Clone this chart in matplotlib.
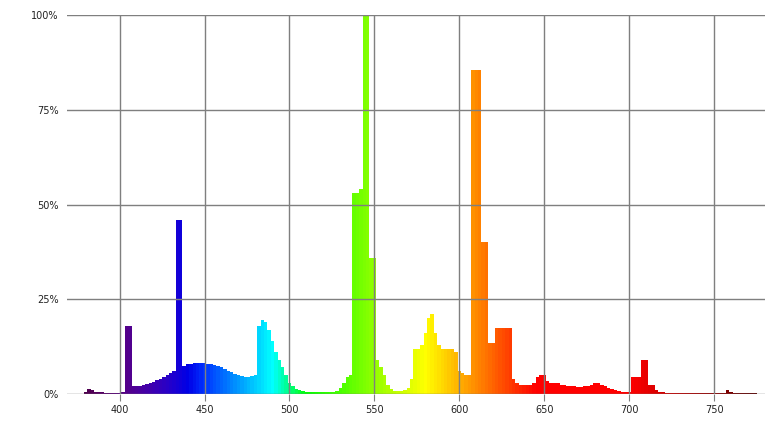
import numpy as np
import matplotlib.pyplot as plt

# relative spectral power, 2 nm bins (bin centre in nm)
wavelengths = list(range(376, 778, 2))
power = [
    0, 0, 0.5, 1.2, 1.0, 0.5, 0.4, 0.4, 0.3, 0.3,          # 376-394
    0.3, 0.3, 0.3, 0.5, 18, 18, 2.0, 2.0, 2.2, 2.5,         # 396-414
    2.7, 3.0, 3.2, 3.6, 4.0, 4.5, 5.0, 5.5, 6.0, 46,        # 416-434
    46, 7.5, 7.8, 8.0, 8.2, 8.3, 8.3, 8.2, 8.0, 7.8,        # 436-454
    7.6, 7.3, 7.0, 6.6, 6.2, 5.8, 5.4, 5.1, 4.8, 4.6,       # 456-474
    4.6, 4.8, 5.0, 18, 19.5, 19, 17, 14, 11, 9,             # 476-494
    7, 5, 3, 2, 1.3, 1.0, 0.8, 0.6, 0.5, 0.5,               # 496-514
    0.5, 0.5, 0.5, 0.5, 0.5, 0.6, 0.8, 1.5, 3.0, 4.5,       # 516-534
    5, 53, 53, 54, 100, 100, 36, 36, 9, 7,                  # 536-554
    5, 2.5, 1.2, 0.8, 0.7, 0.8, 1.0, 1.5, 4, 12,            # 556-574
    12, 13, 16, 20, 21, 16, 13, 12, 12, 12,                 # 576-594
    12, 11, 6, 5.5, 5, 5, 85.5, 85.5, 85.5, 40,             # 596-614
    40, 13.4, 13.4, 17.4, 17.4, 17.4, 17.4, 17.4, 4, 3,     # 616-634
    2.5, 2.5, 2.5, 2.5, 3, 4.5, 5, 5, 3.5, 3,               # 636-654
    3, 2.8, 2.5, 2.5, 2.2, 2, 2, 1.8, 1.8, 2,               # 656-674
    2.2, 2.5, 2.8, 2.8, 2.5, 2, 1.5, 1.2, 1, 0.8,           # 676-694
    0.6, 0.5, 0.5, 4.6, 4.6, 4.6, 9, 9, 2.5, 2.4,           # 696-714
    1, 0.5, 0.4, 0.3, 0.3, 0.3, 0.3, 0.3, 0.3, 0.3,         # 716-734
    0.3, 0.3, 0.3, 0.3, 0.3, 0.3, 0.3, 0.3, 0.3, 0.3,       # 736-754
    0.3, 1, 0.5, 0.3, 0.3, 0.3, 0.3, 0.3, 0.3, 0.3,         # 756-774
    0,                                                      # 776
]
x_ticks = [400, 450, 500, 550, 600, 650, 700, 750]
y_ticks = [0, 25, 50, 75, 100]
y_labels = ['0%', '25%', '50%', '75%', '100%']


def wavelength_to_rgb(w):
    if w < 440:
        r, g, b = -(w - 440) / 60, 0.0, 1.0
    elif w < 490:
        r, g, b = 0.0, (w - 440) / 50, 1.0
    elif w < 510:
        r, g, b = 0.0, 1.0, -(w - 510) / 20
    elif w < 580:
        r, g, b = (w - 510) / 70, 1.0, 0.0
    elif w < 645:
        r, g, b = 1.0, -(w - 645) / 65, 0.0
    else:
        r, g, b = 1.0, 0.0, 0.0
    # dimmer towards the ends of the visible range
    if w < 450:
        f = 0.3 + 0.7 * (w - 380) / 70
    elif w > 700:
        f = 0.3 + 0.7 * (780 - w) / 80
    else:
        f = 1.0
    f = min(1.0, max(f, 0.3))
    return tuple(min(1.0, max(0.0, c * f)) for c in (r, g, b))


colors = [wavelength_to_rgb(w) for w in wavelengths]

fig = plt.figure(figsize=(7.69, 4.33), dpi=100)
ax = fig.add_axes([67 / 769, 1 - 394 / 433, (765 - 67) / 769, (394 - 15) / 433])

ax.bar(wavelengths, power, width=2.0, color=colors, linewidth=0, zorder=1)

ax.set_xlim(369, 780)
ax.set_ylim(0, 100)
ax.set_xticks(x_ticks)
ax.set_yticks(y_ticks)
ax.set_yticklabels(y_labels)
ax.grid(True, color='#7f7f7f', linewidth=1.0, zorder=2)
ax.set_axisbelow(False)
for s in ax.spines.values():
    s.set_visible(False)
ax.tick_params(axis='both', length=5, color='#7f7f7f', labelsize=7,
               labelcolor='#222222', pad=3)
ax.tick_params(axis='y', length=0, pad=6)

fig.savefig('out.png', dpi=100)
